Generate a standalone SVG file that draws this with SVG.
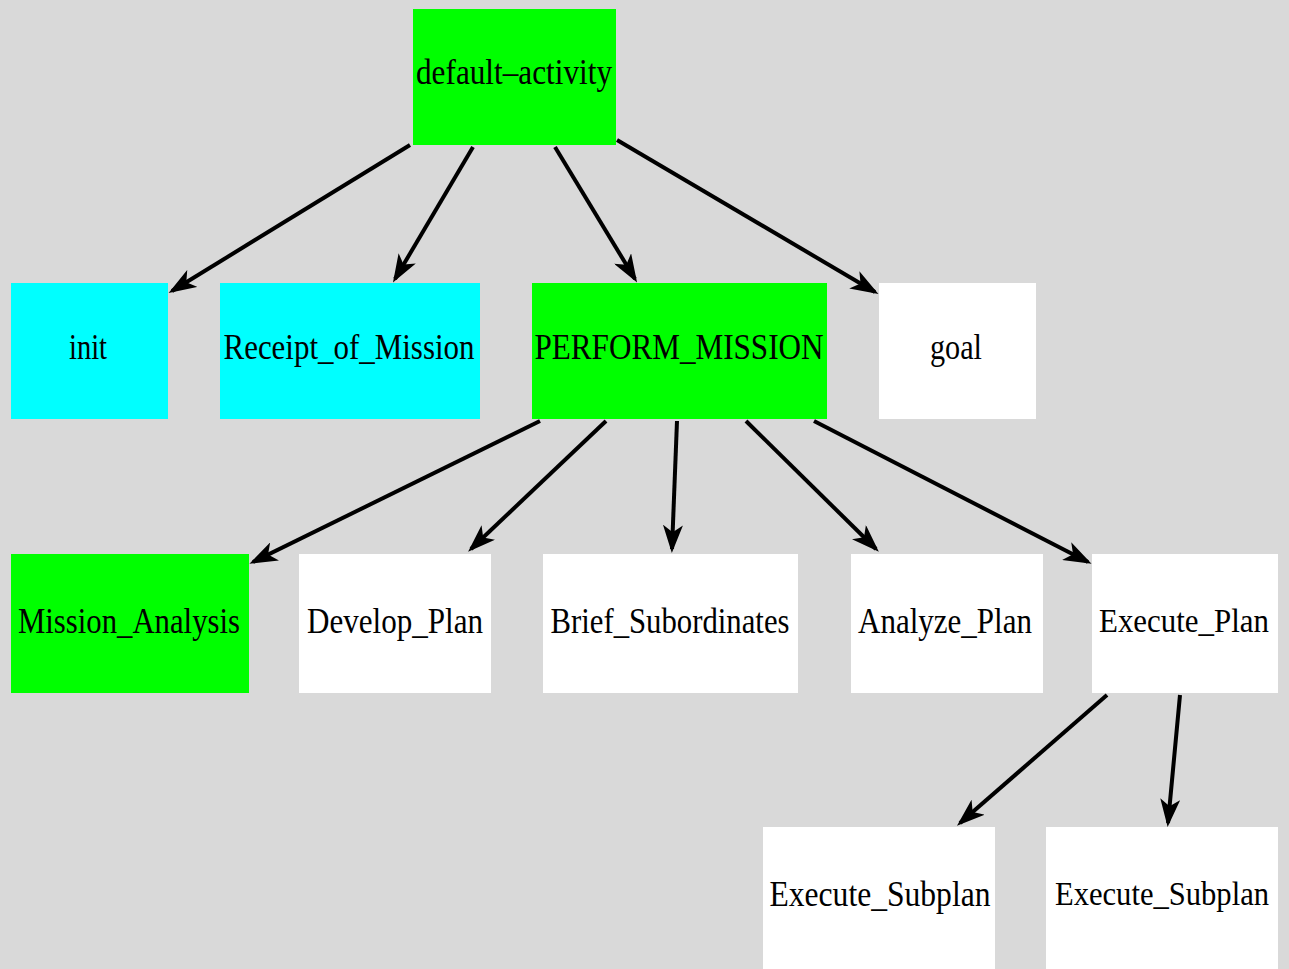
<svg xmlns="http://www.w3.org/2000/svg" width="1289" height="969" viewBox="0 0 1289 969">
<style>
.n{stroke:none}
.g{fill:#00ff00}
.c{fill:#00ffff}
.w{fill:#ffffff}
text{font-family:"Liberation Serif","DejaVu Serif",serif;font-size:36px;fill:#000;text-anchor:middle}
text.s{font-size:33px}
.e{stroke:#000;stroke-width:4;fill:none;marker-end:url(#ah)}
</style>
<defs>
<marker id="ah" markerWidth="7" markerHeight="5" refX="6" refY="2.5" orient="auto" markerUnits="strokeWidth">
<path d="M0,0 L7,2.5 L0,5 L1.8,2.5 Z" fill="#000"/>
</marker>
</defs>
<rect width="1289" height="969" fill="#d9d9d9"/>
<g id="connectors">
<line class="e" x1="410" y1="145" x2="172" y2="291"/>
<line class="e" x1="473" y1="147" x2="395" y2="279"/>
<line class="e" x1="555" y1="147" x2="635" y2="279"/>
<line class="e" x1="617" y1="140" x2="875" y2="292"/>
<line class="e" x1="540" y1="421" x2="253" y2="562"/>
<line class="e" x1="606" y1="421" x2="471" y2="549"/>
<line class="e" x1="677" y1="421" x2="672" y2="549"/>
<line class="e" x1="746" y1="421" x2="876" y2="549"/>
<line class="e" x1="814" y1="421" x2="1088" y2="562"/>
<line class="e" x1="1107" y1="695" x2="960" y2="823"/>
<line class="e" x1="1180" y1="695" x2="1168" y2="823"/>
</g>
<g id="default-activity"><rect class="n g" x="413" y="9" width="203" height="136"/><text x="514" y="84" textLength="196" lengthAdjust="spacingAndGlyphs">default–activity</text></g>
<g id="init"><rect class="n c" x="11" y="283" width="157" height="136"/><text x="88" y="359" textLength="38" lengthAdjust="spacingAndGlyphs">init</text></g>
<g id="Receipt_of_Mission"><rect class="n c" x="220" y="283" width="260" height="136"/><text x="349" y="359" textLength="251" lengthAdjust="spacingAndGlyphs">Receipt_of_Mission</text></g>
<g id="PERFORM_MISSION"><rect class="n g" x="532" y="283" width="295" height="136"/><text x="679" y="359" textLength="289" lengthAdjust="spacingAndGlyphs">PERFORM_MISSION</text></g>
<g id="goal"><rect class="n w" x="879" y="283" width="157" height="136"/><text x="956" y="359" textLength="52" lengthAdjust="spacingAndGlyphs">goal</text></g>
<g id="Mission_Analysis"><rect class="n g" x="11" y="554" width="238" height="139"/><text x="129" y="633" textLength="222" lengthAdjust="spacingAndGlyphs">Mission_Analysis</text></g>
<g id="Develop_Plan"><rect class="n w" x="299" y="554" width="192" height="139"/><text x="395" y="633" textLength="176" lengthAdjust="spacingAndGlyphs">Develop_Plan</text></g>
<g id="Brief_Subordinates"><rect class="n w" x="543" y="554" width="255" height="139"/><text x="670" y="633" textLength="239" lengthAdjust="spacingAndGlyphs">Brief_Subordinates</text></g>
<g id="Analyze_Plan"><rect class="n w" x="851" y="554" width="192" height="139"/><text x="945" y="633" textLength="174" lengthAdjust="spacingAndGlyphs">Analyze_Plan</text></g>
<g id="Execute_Plan"><rect class="n w" x="1092" y="554" width="186" height="139"/><text class="s" x="1184" y="632" textLength="170" lengthAdjust="spacingAndGlyphs">Execute_Plan</text></g>
<g id="Execute_Subplan_1"><rect class="n w" x="763" y="827" width="232" height="142"/><text x="880" y="906" textLength="221" lengthAdjust="spacingAndGlyphs">Execute_Subplan</text></g>
<g id="Execute_Subplan_2"><rect class="n w" x="1046" y="827" width="232" height="142"/><text class="s" x="1162" y="905" textLength="214" lengthAdjust="spacingAndGlyphs">Execute_Subplan</text></g>
</svg>
